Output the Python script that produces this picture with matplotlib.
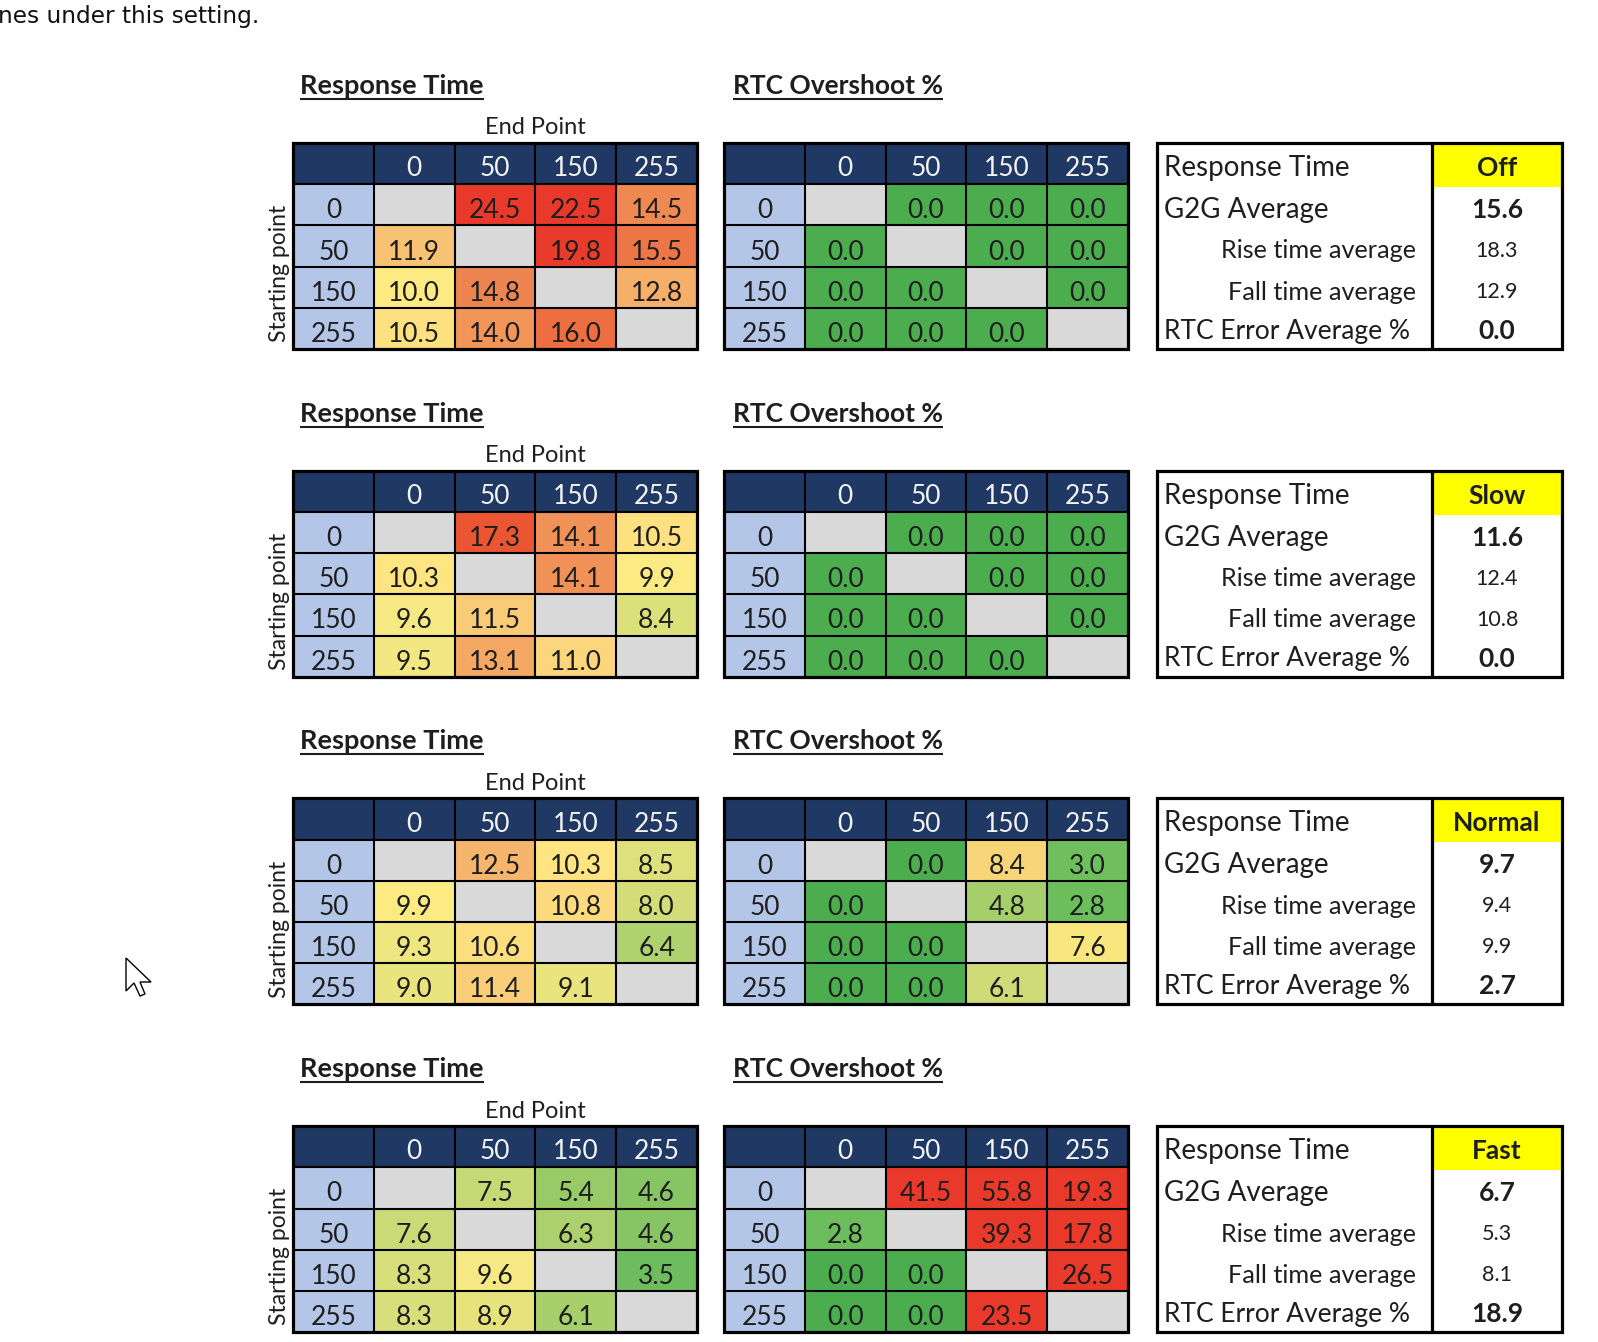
import numpy as np
import matplotlib
matplotlib.use('Agg')
import matplotlib.pyplot as plt
from matplotlib.colors import LinearSegmentedColormap, Normalize
from matplotlib.patches import Rectangle, Polygon

plt.rcParams['font.family'] = ['Lato', 'DejaVu Sans']

# ---- Data ----
nan = np.nan
levels = ['0', '50', '150', '255']
modes = ['Off', 'Slow', 'Normal', 'Fast']

rt_off = [[nan, 24.5, 22.5, 14.5],
          [11.9, nan, 19.8, 15.5],
          [10.0, 14.8, nan, 12.8],
          [10.5, 14.0, 16.0, nan]]
rt_slow = [[nan, 17.3, 14.1, 10.5],
           [10.3, nan, 14.1, 9.9],
           [9.6, 11.5, nan, 8.4],
           [9.5, 13.1, 11.0, nan]]
rt_normal = [[nan, 12.5, 10.3, 8.5],
             [9.9, nan, 10.8, 8.0],
             [9.3, 10.6, nan, 6.4],
             [9.0, 11.4, 9.1, nan]]
rt_fast = [[nan, 7.5, 5.4, 4.6],
           [7.6, nan, 6.3, 4.6],
           [8.3, 9.6, nan, 3.5],
           [8.3, 8.9, 6.1, nan]]

os_off = [[nan, 0.0, 0.0, 0.0],
          [0.0, nan, 0.0, 0.0],
          [0.0, 0.0, nan, 0.0],
          [0.0, 0.0, 0.0, nan]]
os_slow = [[nan, 0.0, 0.0, 0.0],
           [0.0, nan, 0.0, 0.0],
           [0.0, 0.0, nan, 0.0],
           [0.0, 0.0, 0.0, nan]]
os_normal = [[nan, 0.0, 8.4, 3.0],
             [0.0, nan, 4.8, 2.8],
             [0.0, 0.0, nan, 7.6],
             [0.0, 0.0, 6.1, nan]]
os_fast = [[nan, 41.5, 55.8, 19.3],
           [2.8, nan, 39.3, 17.8],
           [0.0, 0.0, nan, 26.5],
           [0.0, 0.0, 23.5, nan]]

g2g_avg = [15.6, 11.6, 9.7, 6.7]
rise_avg = [18.3, 12.4, 9.4, 5.3]
fall_avg = [12.9, 10.8, 9.9, 8.1]
rtc_err = [0.0, 0.0, 2.7, 18.9]

rt_tables = [rt_off, rt_slow, rt_normal, rt_fast]
os_tables = [os_off, os_slow, os_normal, os_fast]

# ---- Colour scales ----
RT_MIN, RT_MAX = 3.0, 20.0
rt_cmap = LinearSegmentedColormap.from_list('rt', [
    (0.0, '#63B95A'),
    ((10.0 - RT_MIN) / (RT_MAX - RT_MIN), '#FFEB84'),
    ((12.0 - RT_MIN) / (RT_MAX - RT_MIN), '#F8C173'),
    ((14.5 - RT_MIN) / (RT_MAX - RT_MIN), '#EF8A52'),
    ((17.3 - RT_MIN) / (RT_MAX - RT_MIN), '#EA5532'),
    (1.0, '#E8392A')])
OS_MIN, OS_MAX = 0.0, 15.0
os_cmap = LinearSegmentedColormap.from_list('os', [
    (0.0, '#4CAD4F'),
    (3.0 / OS_MAX, '#6FBF5E'),
    (7.5 / OS_MAX, '#F8E880'),
    (9.0 / OS_MAX, '#FAC876'),
    (1.0, '#E8392A')])
for cm in (rt_cmap, os_cmap):
    cm.set_bad('#D9D9D9')

NAVY = '#203864'
ROW_BLUE = '#B4C6E7'
GRAY = '#D9D9D9'
TXT = '#1E1E1E'

# ---- Layout (pixels) ----
W, H = 1598, 1342
fig = plt.figure(figsize=(W / 100, H / 100), dpi=100)
ax = fig.add_axes([0, 0, 1, 1])
ax.set_xlim(0, W)
ax.set_ylim(H, 0)
ax.axis('off')

TOP0 = 143
BLOCK_DY = 327.7
TAB_W, TAB_H = 404, 206
RT_X, OS_X = 293, 724
SUM_X, SUM_DIV, SUM_R = 1157, 1432, 1562
CELL_FS = 19
DY = 6  # text sits a little low in the cells

titles = []


def draw_table(x0, y0, data, cmap, vmin, vmax):
    cw = TAB_W / 5
    ch = TAB_H / 5
    xe = x0 + cw * np.arange(1, 6)
    ye = y0 + ch * np.arange(1, 6)
    # header row and row header
    ax.add_patch(Rectangle((x0, y0), TAB_W, ch, facecolor=NAVY, edgecolor='none', zorder=1))
    ax.add_patch(Rectangle((x0, y0 + ch), cw, TAB_H - ch, facecolor=ROW_BLUE, edgecolor='none', zorder=1))
    ax.add_patch(Rectangle((x0 + cw, y0 + ch), TAB_W - cw, TAB_H - ch, facecolor=GRAY, edgecolor='none', zorder=1))
    vals = np.ma.masked_invalid(np.array(data, dtype=float))
    ax.pcolormesh(xe, ye, vals, cmap=cmap, norm=Normalize(vmin, vmax, clip=True), zorder=2)
    for j, lab in enumerate(levels):
        ax.text(x0 + cw * (j + 1.5), y0 + ch * 0.5 + DY - 1, lab, ha='center', va='center',
                fontsize=CELL_FS, color='#F4F4F4', zorder=4)
        ax.text(x0 + cw * 0.5, y0 + ch * (j + 1.5) + DY, lab, ha='center', va='center',
                fontsize=CELL_FS, color=TXT, zorder=4)
    for r in range(4):
        for c in range(4):
            v = data[r][c]
            if not np.isnan(v):
                ax.text(x0 + cw * (c + 1.5), y0 + ch * (r + 1.5) + DY, f'{v:.1f}', ha='center',
                        va='center', fontsize=CELL_FS, color=TXT, zorder=4)
    # grid lines
    ax.hlines(y0 + ch * np.arange(1, 5), x0, x0 + TAB_W, color='black', lw=1.5, zorder=3)
    ax.vlines(x0 + cw * np.arange(1, 5), y0, y0 + TAB_H, color='black', lw=1.5, zorder=3)
    ax.add_patch(Rectangle((x0, y0), TAB_W, TAB_H, facecolor='none', edgecolor='black',
                           lw=2.3, zorder=5))


for i, mode in enumerate(modes):
    top = TOP0 + i * BLOCK_DY

    t1 = ax.text(300, top - 49, 'Response Time', fontsize=19.5, fontweight='bold',
                 color=TXT, ha='left', va='baseline')
    t2 = ax.text(733, top - 49, 'RTC Overshoot %', fontsize=19, fontweight='bold',
                 color=TXT, ha='left', va='baseline')
    titles += [(t1, top - 44), (t2, top - 44)]

    ax.text(RT_X + TAB_W * 0.6, top - 15, 'End Point', fontsize=17, color=TXT,
            ha='center', va='center')
    ax.text(279, top + TAB_H * 0.6 + 7, 'Starting point', fontsize=16.5, color=TXT,
            ha='center', va='center', rotation=90)

    draw_table(RT_X, top, rt_tables[i], rt_cmap, RT_MIN, RT_MAX)
    draw_table(OS_X, top, os_tables[i], os_cmap, OS_MIN, OS_MAX)

    # summary box
    ax.add_patch(Rectangle((SUM_DIV, top), SUM_R - SUM_DIV, 44, facecolor='#FFFF00',
                           edgecolor='none', zorder=1))
    ax.add_patch(Rectangle((SUM_X, top), SUM_R - SUM_X, TAB_H, facecolor='none',
                           edgecolor='black', lw=2.3, zorder=5))
    ax.vlines(SUM_DIV, top, top + TAB_H, color='black', lw=2.3, zorder=5)
    vc = (SUM_DIV + SUM_R) / 2
    rows_y = [top + 25, top + 67, top + 108, top + 149, top + 188]
    ax.text(SUM_X + 7, rows_y[0], 'Response Time', fontsize=20, color=TXT, ha='left', va='center')
    ax.text(SUM_X + 7, rows_y[1], 'G2G Average', fontsize=20, color=TXT, ha='left', va='center')
    ax.text(SUM_DIV - 16, rows_y[2], 'Rise time average', fontsize=18.2, color=TXT, ha='right', va='center')
    ax.text(SUM_DIV - 16, rows_y[3], 'Fall time average', fontsize=18.2, color=TXT, ha='right', va='center')
    ax.text(SUM_X + 7, rows_y[4], 'RTC Error Average %', fontsize=19, color=TXT, ha='left', va='center')
    ax.text(vc, rows_y[0], mode, fontsize=19, fontweight='bold', color=TXT, ha='center', va='center')
    ax.text(vc, rows_y[1], f'{g2g_avg[i]:.1f}', fontsize=19, fontweight='bold', color=TXT,
            ha='center', va='center')
    ax.text(vc, rows_y[2], f'{rise_avg[i]:.1f}', fontsize=15.5, color=TXT, ha='center', va='center')
    ax.text(vc, rows_y[3], f'{fall_avg[i]:.1f}', fontsize=15.5, color=TXT, ha='center', va='center')
    ax.text(vc, rows_y[4], f'{rtc_err[i]:.1f}', fontsize=19, fontweight='bold', color=TXT,
            ha='center', va='center')

# leftover line of page text and the mouse pointer from the screenshot
ax.text(-2, 17, 'nes under this setting.', fontsize=16.7, color='#111111', ha='left',
        va='center', family='DejaVu Sans')
ax.add_patch(Polygon([(126, 958), (126, 991), (134, 983), (140, 996), (145, 994),
                      (140, 982), (151, 982)], closed=True, facecolor='white',
                     edgecolor='black', lw=1.0, zorder=6))

# underline the block titles
fig.canvas.draw()
inv = ax.transData.inverted()
for t, uy in titles:
    bb = t.get_window_extent()
    (xa, _), (xb, _) = inv.transform([(bb.x0, bb.y0), (bb.x1, bb.y1)])
    ax.plot([xa, xb], [uy, uy], color=TXT, lw=1.5, solid_capstyle='butt')

fig.savefig('out.png', dpi=100)
